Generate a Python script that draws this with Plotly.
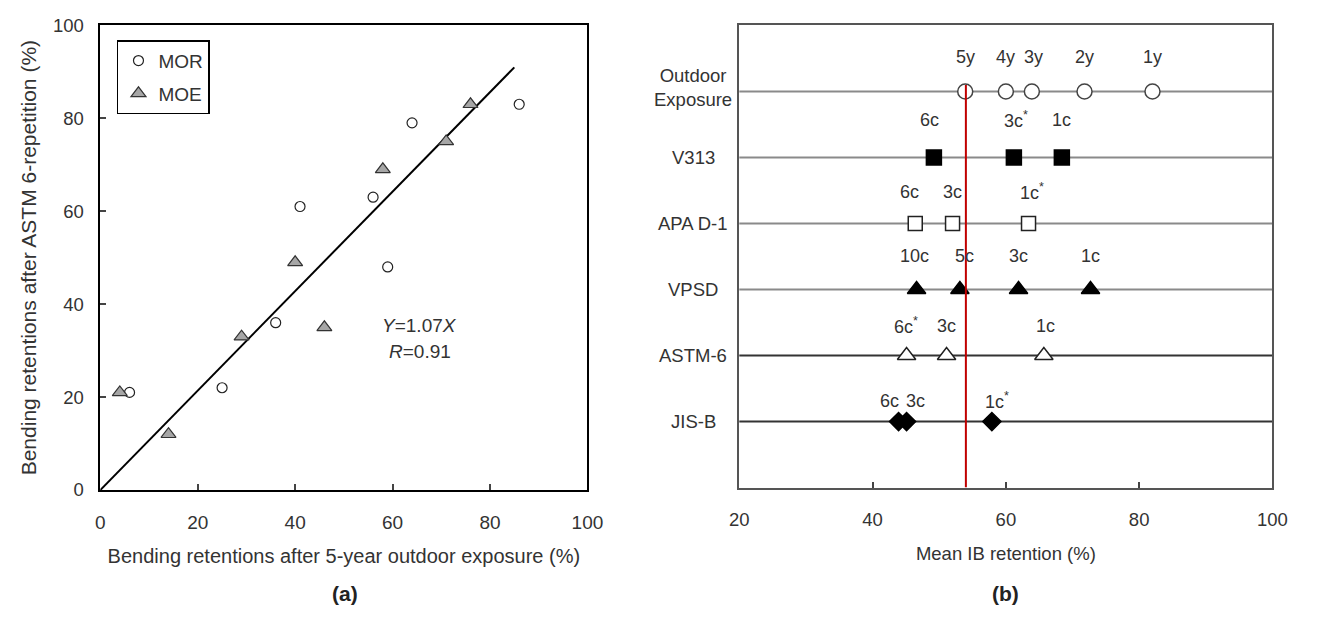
import plotly.graph_objects as go

# ---------------- Panel (a) data ----------------
mor_x = [6, 25, 36, 41, 56, 59, 64, 86]
mor_y = [21, 22, 36, 61, 63, 48, 79, 83]
moe_x = [4, 14, 29, 40, 46, 58, 71, 76]
moe_y = [21, 12, 33, 49, 35, 69, 75, 83]
fit_slope = 1.07
fit_r = 0.91
fit_x = [0, 85]
a_ticks = [0, 20, 40, 60, 80, 100]

# ---------------- Panel (b) data ----------------
methods = ["Outdoor<br>Exposure", "V313", "APA D-1", "VPSD", "ASTM-6", "JIS-B"]
method_pos = [6, 5, 4, 3, 2, 1]
ib_values = [
    [53.9, 60.0, 63.9, 71.8, 82.0],
    [49.2, 61.2, 68.4],
    [46.4, 52.0, 63.4],
    [46.6, 53.1, 61.9, 72.7],
    [45.1, 51.1, 65.7],
    [43.9, 45.1, 57.9],
]
ib_labels = [
    ["5y", "4y", "3y", "2y", "1y"],
    ["6c", "3c*", "1c"],
    ["6c", "3c", "1c*"],
    ["10c", "5c", "3c", "1c"],
    ["6c*", "3c", "1c"],
    ["6c", "3c", "1c*"],
]
reference_ib = 54.0   # 5-year outdoor exposure retention
b_ticks = [20, 40, 60, 80, 100]

# ---------------- layout helpers (page has an 8px body margin) ----------------
W, H, OFF = 1302, 603, 8


def px_x(p):
    return (p - OFF) / W


def px_y(p):
    return (H + OFF - p) / H


# ---------------- styles ----------------
FONT = "Liberation Sans, Arial, Helvetica, sans-serif"
TXT = "#333333"
row_symbols = ["circle", "square", "square", "triangle-up", "triangle-up", "diamond"]
row_fill = ["white", "black", "white", "black", "white", "black"]
row_edge = ["#444444", "black", "#222222", "black", "#222222", "black"]
row_size = [15, 15, 14, 16, 16, 14]
row_line_color = ["#8a8a8a", "#8a8a8a", "#8a8a8a", "#8a8a8a", "#333333", "#333333"]
label_raise_px = [34, 38, 32, 34, 30, 21]
label_xshift = [
    [0, 0, 2, 0, 0],
    [-4, 2, 0],
    [-6, 0, 3],
    [-2, 5, 0, 0],
    [-1, 0, 2],
    [-9, 9, 5],
]

fig = go.Figure()

# Panel (a)
fig.add_trace(go.Scatter(
    x=fit_x, y=[fit_slope * v for v in fit_x], mode="lines",
    line=dict(color="black", width=2), showlegend=False, hoverinfo="skip",
    xaxis="x", yaxis="y"))
fig.add_trace(go.Scatter(
    x=mor_x, y=mor_y, mode="markers", name="MOR", legendgroup="mor",
    marker=dict(symbol="circle-open", size=10, color="#222222", line=dict(width=1.2)),
    xaxis="x", yaxis="y"))
fig.add_trace(go.Scatter(
    x=moe_x, y=moe_y, mode="markers", name="MOE", legendgroup="moe",
    marker=dict(symbol="triangle-up", size=13, color="#a6a6a6",
                line=dict(color="#333333", width=1.2)),
    xaxis="x", yaxis="y"))

# Panel (b)
shapes = []
for pos, lc in zip(method_pos, row_line_color):
    shapes.append(dict(type="line", xref="x2 domain", yref="y2", x0=0, x1=1,
                       y0=pos, y1=pos, line=dict(color=lc, width=2), layer="below"))
shapes.append(dict(type="line", xref="x2", yref="y2", x0=reference_ib, x1=reference_ib,
                   y0=0, y1=method_pos[0] + 0.1, line=dict(color="#c00000", width=2),
                   layer="above"))

annotations = []
for i, (name, pos, vals, labs) in enumerate(zip(methods, method_pos, ib_values, ib_labels)):
    fig.add_trace(go.Scatter(
        x=vals, y=[pos] * len(vals), mode="markers", showlegend=False,
        marker=dict(symbol=row_symbols[i], size=row_size[i], color=row_fill[i],
                    line=dict(color=row_edge[i], width=1.5)),
        xaxis="x2", yaxis="y2"))
    for j, (v, lab) in enumerate(zip(vals, labs)):
        annotations.append(dict(
            x=v, y=pos, xref="x2", yref="y2", text=lab.replace("*", "<sup>*</sup>"),
            showarrow=False, xanchor="center", yanchor="middle",
            yshift=label_raise_px[i], xshift=label_xshift[i][j],
            font=dict(family=FONT, size=18, color=TXT)))
    annotations.append(dict(
        x=px_x(697), y=pos, xref="paper", yref="y2", text=name, showarrow=False,
        xanchor="center", yanchor="middle", yshift=4 if i == 0 else 0,
        font=dict(family=FONT, size=18.5, color=TXT)))

annotations.append(dict(x=65.6, y=35.3, xref="x", yref="y", xanchor="center",
                        yanchor="middle", text="<i>Y</i>=%.2f<i>X</i>" % fit_slope,
                        showarrow=False, font=dict(family=FONT, size=19, color=TXT)))
annotations.append(dict(x=65.7, y=29.7, xref="x", yref="y", xanchor="center",
                        yanchor="middle", text="<i>R</i>=%.2f" % fit_r,
                        showarrow=False, font=dict(family=FONT, size=19, color=TXT)))
annotations.append(dict(x=px_x(342), y=px_y(603), xref="paper", yref="paper",
                        xanchor="center", yanchor="middle",
                        text="<b>(a)</b>", showarrow=False,
                        font=dict(family=FONT, size=21, color="#222222")))
annotations.append(dict(x=px_x(1016), y=px_y(603), xref="paper", yref="paper",
                        xanchor="center", yanchor="middle",
                        text="<b>(b)</b>", showarrow=False,
                        font=dict(family=FONT, size=21, color="#222222")))

axis_common = dict(showgrid=False, zeroline=False, showline=True, mirror=True,
                   ticks="inside", ticklen=6, tickwidth=1.5, ticklabeloverflow="allow")

fig.update_layout(
    width=W, height=H,
    margin=dict(l=0, r=0, t=0, b=0),
    paper_bgcolor="white", plot_bgcolor="white",
    font=dict(family=FONT, color=TXT),
    shapes=shapes, annotations=annotations,
    showlegend=True,
    legend=dict(x=px_x(109), y=px_y(30), xanchor="left", yanchor="top",
                bgcolor="white", bordercolor="black", borderwidth=1.5,
                font=dict(family=FONT, size=19, color=TXT),
                tracegroupgap=5, itemwidth=30),
    xaxis=dict(domain=[px_x(92), px_x(589)], range=[0, 100], tickvals=a_ticks,
               linecolor="black", linewidth=1.5, anchor="y",
               tickfont=dict(family=FONT, size=19, color=TXT),
               title=dict(text="Bending retentions after 5-year outdoor exposure (%)",
                          font=dict(family=FONT, size=20, color=TXT), standoff=17),
               ticklabelstandoff=14, **axis_common),
    yaxis=dict(domain=[px_y(496), px_y(14.5)], range=[0, 100],
               tickvals=a_ticks, linecolor="black", linewidth=1.5, anchor="x",
               tickfont=dict(family=FONT, size=18.5, color=TXT),
               title=dict(text="Bending retentions after ASTM 6-repetition (%)",
                          font=dict(family=FONT, size=21, color=TXT), standoff=11),
               ticklabelstandoff=11, **axis_common),
    xaxis2=dict(domain=[px_x(744), px_x(1288)], range=[20, 100], tickvals=b_ticks,
                linecolor="#555555", linewidth=2, anchor="y2",
                tickfont=dict(family=FONT, size=18.5, color=TXT),
                title=dict(text="Mean IB retention (%)",
                           font=dict(family=FONT, size=18.5, color=TXT), standoff=18),
                ticklabelstandoff=14, **axis_common),
    yaxis2=dict(domain=[px_y(493.5), px_y(14.7)], range=[0, 7],
                showgrid=False, zeroline=False, showline=True, mirror=True,
                linecolor="#555555", linewidth=2, ticks="", showticklabels=False,
                anchor="x2"),
)

fig.write_html("out.html", config={"displayModeBar": False})
